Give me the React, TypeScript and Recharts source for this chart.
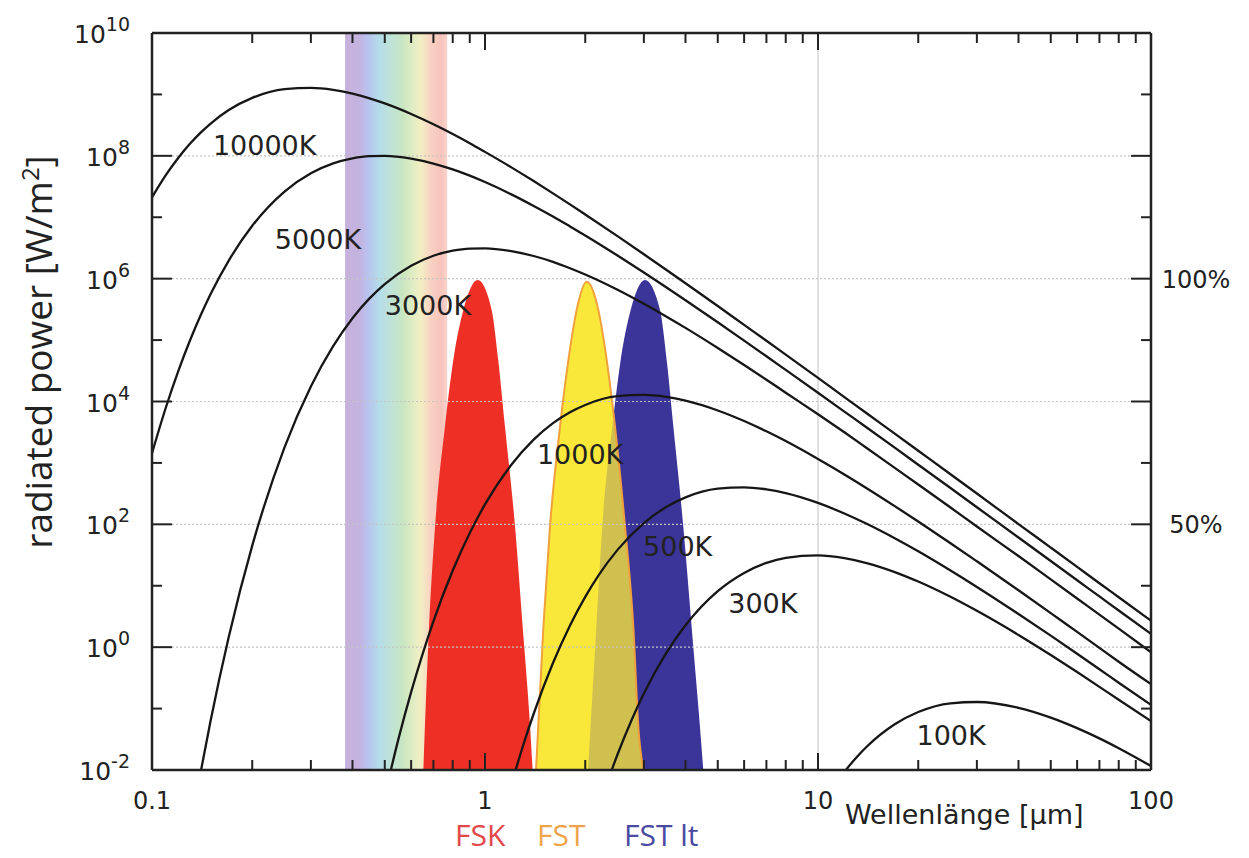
import { ComposedChart, Line, Area, XAxis, YAxis, ReferenceLine, ReferenceDot } from 'recharts'

// axis ticks
const xMajorTicks = [0.1, 1, 10, 100]
const xMinorTicks = [0.2, 0.3, 0.4, 0.5, 0.6, 0.7, 0.8, 0.9, 2, 3, 4, 5, 6, 7, 8, 9, 20, 30, 40, 50, 60, 70, 80, 90]
const yMajorTicks = [1e-2, 1, 1e2, 1e4, 1e6, 1e8, 1e10]
const yMinorTicks = [1e-1, 10, 1e3, 1e5, 1e7, 1e9]
const rightTickLabels: Record<string, string> = { '1000000': '100%', '100': '50%' }
const xGrid = [10]
const yGrid = [1, 1e2, 1e4, 1e6, 1e8]

// black body curves, [wavelength µm, W/m²]
const curve10000K: [number, number][] = [
  [0.1, 2.11e7], [0.11, 4.85e7], [0.12, 9.33e7], [0.13, 1.57e8], [0.14, 2.39e8], [0.15, 3.36e8],
  [0.17, 5.57e8], [0.2, 8.79e8], [0.25, 1.22e9], [0.3, 1.28e9], [0.35, 1.19e9], [0.4, 1.03e9],
  [0.45, 8.64e8], [0.5, 7.14e8], [0.6, 4.81e8], [0.7, 3.27e8], [0.8, 2.27e8], [0.9, 1.61e8],
  [1, 1.16e8], [1.2, 6.49e7], [1.4, 3.88e7], [1.6, 2.45e7], [1.8, 1.62e7], [2, 1.11e7],
  [2.5, 4.93e6], [3, 2.5e6], [3.5, 1.4e6], [4, 8.44e5], [5, 3.59e5], [6, 1.77e5], [7, 9.76e4],
  [8, 5.79e4], [10, 2.42e4], [12, 1.18e4], [14, 6.43e3], [17, 3.0e3], [20, 1.58e3], [25, 655],
  [30, 318], [40, 101], [50, 41.8], [60, 20.3], [70, 11.0], [80, 6.5], [100, 2.7],
]
const curve5000K: [number, number][] = [
  [0.1, 1.44e3], [0.11, 7.91e3], [0.12, 3.15e4], [0.13, 9.83e4], [0.14, 2.53e5], [0.15, 5.62e5],
  [0.17, 1.97e6], [0.2, 7.26e6], [0.25, 2.62e7], [0.3, 5.2e7], [0.35, 7.54e7], [0.4, 9.12e7],
  [0.45, 9.88e7], [0.5, 9.97e7], [0.6, 9.0e7], [0.7, 7.48e7], [0.8, 6.0e7], [0.9, 4.75e7],
  [1, 3.74e7], [1.2, 2.36e7], [1.4, 1.53e7], [1.6, 1.03e7], [1.8, 7.1e6], [2, 5.05e6],
  [2.5, 2.38e6], [3, 1.26e6], [3.5, 7.24e5], [4, 4.45e5], [5, 1.95e5], [6, 9.79e4], [7, 5.45e4],
  [8, 3.27e4], [10, 1.39e4], [12, 6.85e3], [14, 3.77e3], [17, 1.77e3], [20, 935], [25, 390],
  [30, 190], [40, 61], [50, 25.3], [60, 12.3], [70, 6.7], [80, 3.95], [100, 1.65],
]
const curve3000K: [number, number][] = [
  [0.13, 9.6e-4], [0.14, 9.2e-3], [0.15, 0.064], [0.17, 1.47], [0.2, 45], [0.25, 1.79e3],
  [0.3, 1.76e4], [0.35, 7.97e4], [0.4, 2.27e5], [0.45, 4.77e5], [0.5, 8.17e5], [0.6, 1.62e6],
  [0.7, 2.36e6], [0.8, 2.85e6], [0.9, 3.09e6], [1, 3.12e6], [1.2, 2.81e6], [1.4, 2.34e6],
  [1.6, 1.88e6], [1.8, 1.48e6], [2, 1.17e6], [2.5, 6.6e5], [3, 3.9e5], [3.5, 2.43e5],
  [4, 1.58e5], [5, 7.44e4], [6, 3.93e4], [7, 2.26e4], [8, 1.39e4], [10, 6.2e3], [12, 3.15e3],
  [14, 1.75e3], [17, 830], [20, 446], [25, 188], [30, 92], [40, 30.5], [50, 12.7], [60, 6.2],
  [70, 3.38], [80, 2.0], [100, 0.83],
]
const curve1000K: [number, number][] = [
  [0.5, 3.8e-3], [0.55, 0.0324], [0.6, 0.185], [0.7, 2.64], [0.8, 17.7], [0.9, 72.3], [1, 211],
  [1.2, 933], [1.4, 2.39e3], [1.6, 4.44e3], [1.8, 6.69e3], [2, 8.79e3], [2.5, 1.22e4],
  [3, 1.28e4], [3.5, 1.19e4], [4, 1.03e4], [5, 7.14e3], [6, 4.81e3], [7, 3.27e3], [8, 2.27e3],
  [10, 1.16e3], [12, 649], [14, 388], [17, 198], [20, 111], [25, 49.3], [30, 25.0], [40, 8.44],
  [50, 3.59], [60, 1.77], [70, 0.976], [80, 0.579], [100, 0.25],
]
const curve500K: [number, number][] = [
  [1.2, 5.8e-3], [1.3, 0.0246], [1.4, 0.0824], [1.6, 0.552], [1.8, 2.26], [2, 6.6], [2.2, 15.2],
  [2.5, 38.4], [3, 105], [3.5, 191], [4, 275], [5, 381], [6, 401], [7, 371], [8, 322], [10, 223],
  [12, 150], [14, 102], [17, 59.4], [20, 36.4], [25, 17.7], [30, 9.57], [40, 3.47], [50, 1.54],
  [60, 0.782], [70, 0.438], [80, 0.264], [100, 0.115],
]
const curve300K: [number, number][] = [
  [2, 4.5e-4], [2.2, 2.5e-3], [2.4, 9.85e-3], [2.5, 0.0179], [2.75, 0.0635], [3, 0.176],
  [3.5, 0.797], [4, 2.27], [5, 8.17], [6, 16.2], [7, 23.6], [8, 28.5], [10, 31.2], [12, 28.1],
  [14, 23.4], [17, 16.7], [20, 11.7], [25, 6.6], [30, 3.9], [40, 1.58], [50, 0.744], [60, 0.393],
  [70, 0.226], [80, 0.139], [100, 0.0625],
]
const curve100K: [number, number][] = [
  [10, 2.1e-3], [12, 9.3e-3], [13, 0.0157], [14, 0.0239], [17, 0.0556], [20, 0.0879], [25, 0.122],
  [30, 0.128], [40, 0.103], [50, 0.0714], [60, 0.0481], [70, 0.0327], [80, 0.0226], [100, 0.0116],
]

const curves = [curve10000K, curve5000K, curve3000K, curve1000K, curve500K, curve300K, curve100K]

const curveLabels = [
  { text: '10000K', x: 0.218, y: 1.5e8 },
  { text: '5000K', x: 0.315, y: 4.3e6 },
  { text: '3000K', x: 0.674, y: 3.7e5 },
  { text: '1000K', x: 1.93, y: 1.35e3 },
  { text: '500K', x: 3.79, y: 43 },
  { text: '300K', x: 6.83, y: 5.2 },
  { text: '100K', x: 25.1, y: 0.037 },
]

// sensor bands
const bandFSK: [number, number][] = [
  [0.653, 0.01], [0.679, 2.1], [0.708, 91], [0.758, 3.9e3], [0.803, 4.7e4], [0.861, 3.1e5],
  [0.951, 9.5e5], [1.047, 3.1e5], [1.096, 4.7e4], [1.148, 3.9e3], [1.231, 91], [1.298, 2.1],
  [1.366, 0.05], [1.39, 0.01],
]
const bandFST: [number, number][] = [
  [1.423, 0.01], [1.497, 2.1], [1.567, 91], [1.68, 3.9e3], [1.78, 4.7e4], [1.885, 3.1e5],
  [2.02, 8.9e5], [2.189, 3.1e5], [2.32, 4.7e4], [2.457, 3.9e3], [2.633, 91], [2.789, 2.1],
  [2.887, 0.05], [2.99, 0.01],
]
const bandFSTlt: [number, number][] = [
  [2.039, 0.01], [2.159, 2.1], [2.25, 91], [2.412, 3.9e3], [2.555, 4.7e4], [2.738, 3.1e5],
  [3.024, 9.5e5], [3.354, 3.1e5], [3.513, 4.7e4], [3.678, 3.9e3], [3.94, 91], [4.175, 2.1],
  [4.421, 0.05], [4.524, 0.01],
]
const visibleBand: [number, number][] = [[0.38, 1e10], [0.77, 1e10]]

const rows = (pts: [number, number][]) => pts.map(([x, y]) => ({ x, y }))

const tickFont = '"DejaVu Sans", Verdana, sans-serif'
const ink = '#222'

const BottomTick = ({ x, y, payload }: any) => {
  const major = xMajorTicks.includes(payload.value)
  return (
    <g>
      <line x1={x} x2={x} y1={y} y2={y - (major ? 17 : 10)} stroke={ink} strokeWidth={2} />
      {major && (
        <text x={x} y={y + 39} textAnchor="middle" fontSize={24} fontFamily={tickFont} fill={ink}>
          {String(payload.value)}
        </text>
      )}
    </g>
  )
}

const TopTick = ({ x, y, payload }: any) => {
  const major = xMajorTicks.includes(payload.value)
  return <line x1={x} x2={x} y1={y} y2={y + (major ? 17 : 10)} stroke={ink} strokeWidth={2} />
}

const LeftTick = ({ x, y, payload }: any) => {
  const major = yMajorTicks.includes(payload.value)
  const exp = Math.round(Math.log10(payload.value))
  return (
    <g>
      <line x1={x} x2={x + (major ? 20 : 10)} y1={y} y2={y} stroke={ink} strokeWidth={2} />
      {major && (
        <text x={x - 22} y={y + 10} textAnchor="end" fontSize={25} fontFamily={tickFont} fill={ink}>
          <tspan>10</tspan>
          <tspan dy={-12} fontSize={19}>{exp}</tspan>
        </text>
      )}
    </g>
  )
}

const RightTick = ({ x, y, payload }: any) => {
  const major = yMajorTicks.includes(payload.value)
  const label = rightTickLabels[String(payload.value)]
  return (
    <g>
      <line x1={x} x2={x - (major ? 20 : 10)} y1={y} y2={y} stroke={ink} strokeWidth={2} />
      {label && (
        <text x={x + 45} y={y + 9} textAnchor="middle" fontSize={24} fontFamily={tickFont} fill={ink}>
          {label}
        </text>
      )}
    </g>
  )
}

const axisLine = { stroke: ink, strokeWidth: 2.5 }
const xTicks = [...xMajorTicks, ...xMinorTicks].sort((a, b) => a - b)
const yTicks = [...yMajorTicks, ...yMinorTicks].sort((a, b) => a - b)
const legendFont = '"Open Sans", sans-serif'
const legendStyle = { position: 'absolute' as const, top: 820, fontFamily: legendFont, fontSize: 30, lineHeight: 1, whiteSpace: 'nowrap' as const }

export default function App() {
  return (
    <div style={{ position: 'absolute', left: 0, top: 0, width: 1249, height: 858, background: '#fff', overflow: 'hidden' }}>
      <svg width={0} height={0} style={{ position: 'absolute' }}>
        <defs>
          <linearGradient id="rainbow" x1="0" y1="0" x2="1" y2="0">
            <stop offset="0" stopColor="#c6b1db" />
            <stop offset="0.14" stopColor="#c4b3e0" />
            <stop offset="0.22" stopColor="#b9c2ee" />
            <stop offset="0.33" stopColor="#b4dcea" />
            <stop offset="0.45" stopColor="#bfe3d8" />
            <stop offset="0.56" stopColor="#c7e6c2" />
            <stop offset="0.66" stopColor="#dfecc2" />
            <stop offset="0.74" stopColor="#f3efc4" />
            <stop offset="0.84" stopColor="#f9d2c2" />
            <stop offset="0.94" stopColor="#f7c4bb" />
            <stop offset="1" stopColor="#f9d4cd" />
          </linearGradient>
        </defs>
      </svg>
      <ComposedChart width={1249} height={858} margin={{ top: 0, right: 0, bottom: 0, left: 0 }}>
        <XAxis
          dataKey="x" type="number" scale="log" domain={[0.1, 100]} allowDataOverflow
          ticks={xTicks} interval={0} height={88} tickSize={0} tickMargin={0} tickLine={false}
          tick={<BottomTick />} axisLine={axisLine}
        />
        <XAxis
          xAxisId="top" orientation="top" dataKey="x" type="number" scale="log" domain={[0.1, 100]}
          allowDataOverflow ticks={xTicks} interval={0} height={33} tickSize={0} tickMargin={0}
          tickLine={false} tick={<TopTick />} axisLine={axisLine}
        />
        <YAxis
          type="number" scale="log" domain={[1e-2, 1e10]} allowDataOverflow ticks={yTicks}
          interval={0} width={152} tickSize={0} tickMargin={0} tickLine={false}
          tick={<LeftTick />} axisLine={axisLine}
        />
        <YAxis
          yAxisId="right" orientation="right" type="number" scale="log" domain={[1e-2, 1e10]}
          allowDataOverflow ticks={yTicks} interval={0} width={98} tickSize={0} tickMargin={0}
          tickLine={false} tick={<RightTick />} axisLine={axisLine}
        />

        <Area
          data={rows(visibleBand)} dataKey="y" type="linear" baseValue={0.01}
          fill="url(#rainbow)" fillOpacity={1} stroke="none" isAnimationActive={false}
        />
        {yGrid.map((v) => (
          <ReferenceLine key={'gy' + v} y={v} stroke="#c4c4c4" strokeWidth={1.2} strokeDasharray="2 2" />
        ))}
        {xGrid.map((v) => (
          <ReferenceLine key={'gx' + v} x={v} stroke="#cccccc" strokeWidth={1.2} />
        ))}

        <Area data={rows(bandFST)} dataKey="y" type="monotone" baseValue={0.01}
          fill="#f8e83a" fillOpacity={1} stroke="none" isAnimationActive={false} />
        <Area data={rows(bandFSTlt)} dataKey="y" type="monotone" baseValue={0.01}
          fill="#3b3599" fillOpacity={1} stroke="none" isAnimationActive={false} />
        <Area data={rows(bandFST)} dataKey="y" type="monotone" baseValue={0.01}
          fill="#f8e83a" fillOpacity={0.78} stroke="#f0a03c" strokeWidth={2} isAnimationActive={false} />
        <Area data={rows(bandFSK)} dataKey="y" type="monotone" baseValue={0.01}
          fill="#ee2f25" fillOpacity={1} stroke="none" isAnimationActive={false} />

        {curves.map((c, i) => (
          <Line
            key={i} data={rows(c)} dataKey="y" type="monotone" stroke="#161616"
            strokeWidth={2.3} dot={false} activeDot={false} isAnimationActive={false}
          />
        ))}

        {curveLabels.map((l) => (
          <ReferenceDot
            key={l.text} x={l.x} y={l.y} r={0} fill="none" stroke="none"
            label={{ value: l.text, position: 'center', fill: ink, fontSize: 27, fontFamily: tickFont }}
          />
        ))}
      </ComposedChart>

      <div
        style={{
          position: 'absolute', left: 37, top: 352, transform: 'translate(-50%, -50%) rotate(-90deg)',
          fontFamily: legendFont, fontSize: 37, lineHeight: 1, color: ink, whiteSpace: 'nowrap',
        }}
      >
        radiated power [W/m<sup style={{ fontSize: 24 }}>2</sup>]
      </div>
      <div
        style={{
          position: 'absolute', left: 845, top: 801, fontFamily: tickFont, fontSize: 27,
          lineHeight: 1, color: ink, whiteSpace: 'nowrap',
        }}
      >
        Wellenlänge [µm]
      </div>
      <div style={{ ...legendStyle, left: 455, color: '#e2474a' }}>FSK</div>
      <div style={{ ...legendStyle, left: 537, color: '#eea54a' }}>FST</div>
      <div style={{ ...legendStyle, left: 624, color: '#4a4aa2' }}>FST lt</div>
    </div>
  )
}
